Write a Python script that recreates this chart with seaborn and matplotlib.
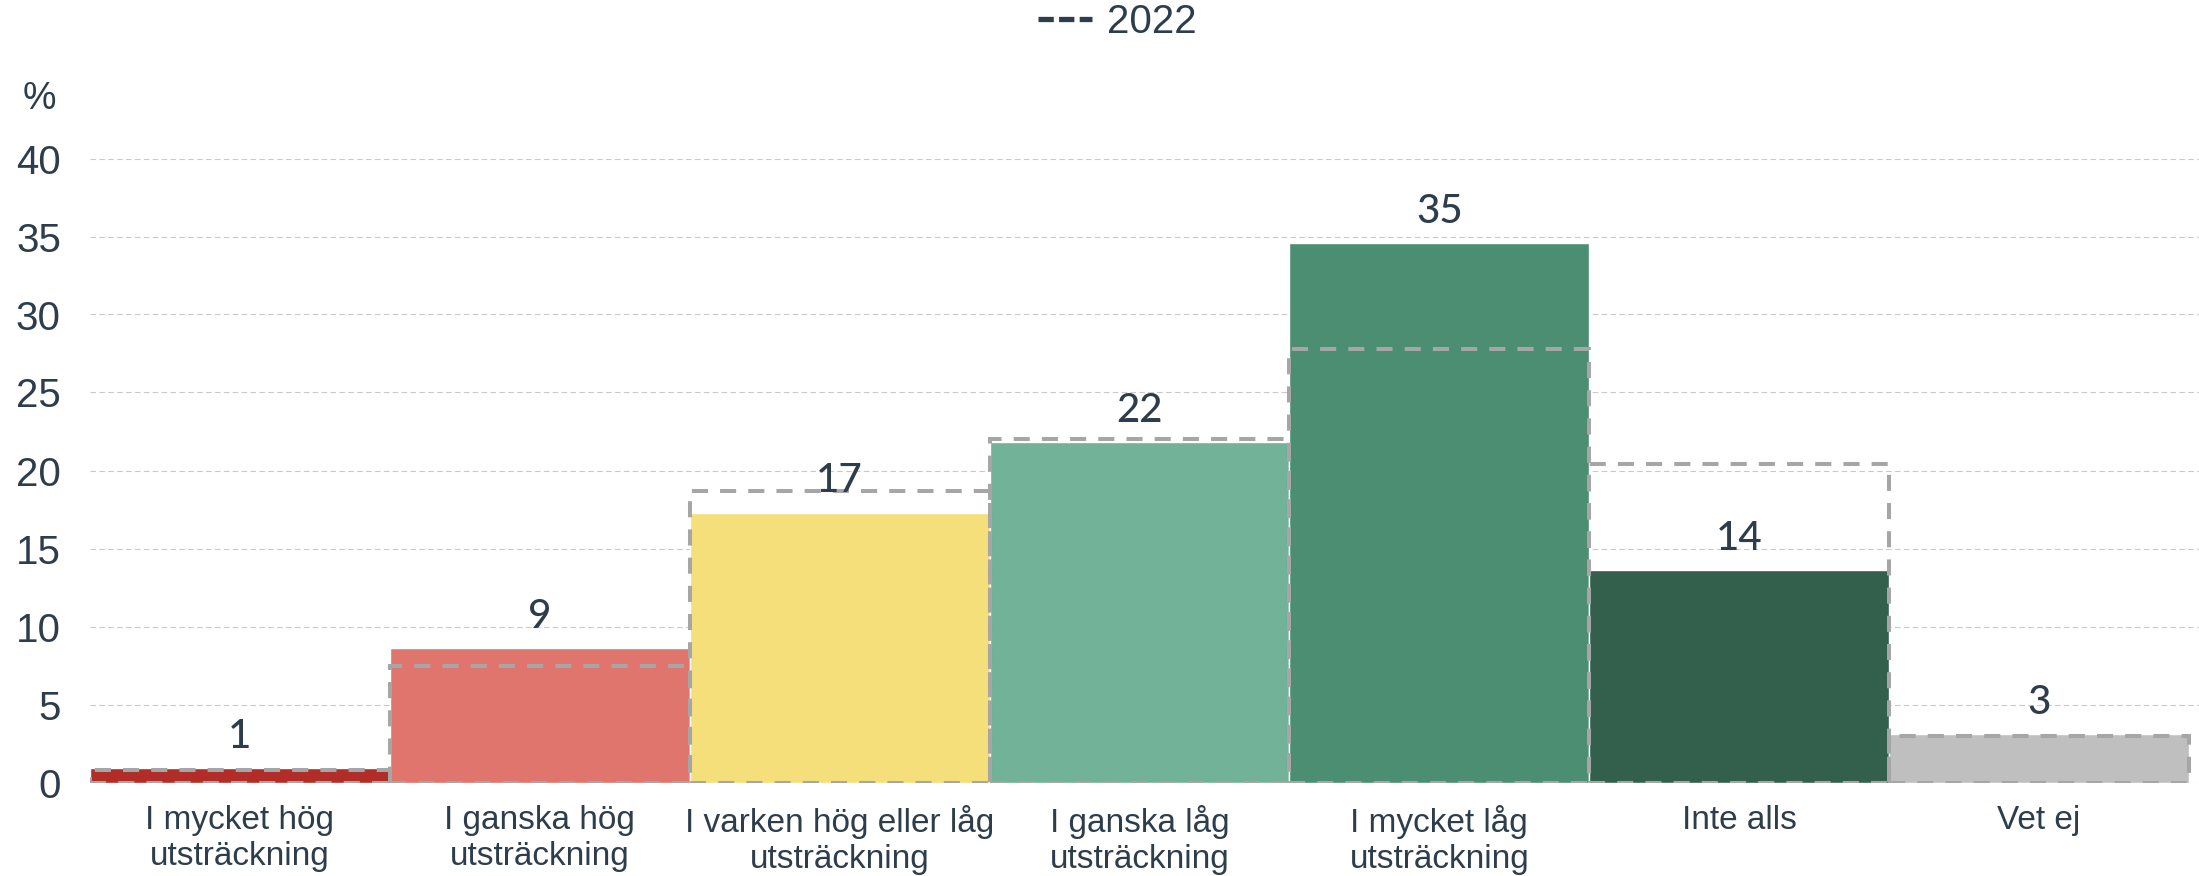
import matplotlib
matplotlib.use("Agg")
import matplotlib.pyplot as plt
from matplotlib.lines import Line2D
import seaborn as sns
import pandas as pd

# data
categories = [
    "I mycket hög\nutsträckning",
    "I ganska hög\nutsträckning",
    "I varken hög eller låg\nutsträckning",
    "I ganska låg\nutsträckning",
    "I mycket låg\nutsträckning",
    "Inte alls",
    "Vet ej",
]
values_2025 = [0.9, 8.6, 17.3, 21.8, 34.6, 13.6, 3.1]
values_2022 = [0.8, 7.5, 18.7, 22.0, 27.8, 20.4, 3.0]
bar_colors = ["#B22D27", "#E0756D", "#F5DF7B", "#71B298", "#4B8E72", "#335F4D", "#BFBFBF"]
yticks = [0, 5, 10, 15, 20, 25, 30, 35, 40]

text_color = "#2E3D4C"
outline_color = "#A6A6A6"

sns.set_style("white")
plt.rcParams["font.family"] = ["Liberation Sans", "DejaVu Sans"]

df = pd.DataFrame({"kategori": categories, "andel": values_2025})

fig = plt.figure(figsize=(21.99, 8.76), dpi=100)
ax = fig.add_axes([90 / 2199, 1 - 782.5 / 876, (2199 - 90) / 2199, (782.5 - 158.5) / 876])

# gridlines
for t in yticks:
    ax.axhline(t, color="#C9C9C9", lw=0.8, ls=(0, (5, 3)), zorder=0)

sns.barplot(data=df, x="kategori", y="andel", hue="kategori", palette=bar_colors,
            width=1.0, legend=False, saturation=1, ax=ax, zorder=2)

# 2022 outlines
pos = list(range(len(categories)))
ax.bar(pos, values_2022, width=1.0, fill=False, edgecolor=outline_color,
       linewidth=2.9, linestyle=(0, (4, 3)), zorder=3)

# value labels
for x, v in zip(pos, values_2025):
    ax.annotate(f"{v:.0f}", (x, v), xytext=(0, 9.5), textcoords="offset points",
                ha="center", va="bottom", fontsize=29, color=text_color,
                family=["Lato", "DejaVu Sans"], fontweight="medium", zorder=4)

ax.set_xlim(-0.5, 6.5 + 10 / 300)
ax.set_ylim(0, 40)
ax.set_yticks(yticks)
ax.set_xlabel("")
ax.set_ylabel("")
sns.despine(ax=ax, left=True, bottom=True)
ax.tick_params(axis="y", length=0, pad=21, labelsize=29, labelcolor=text_color)
ax.tick_params(axis="x", length=0, pad=16, labelsize=24, labelcolor=text_color)
for lab in ax.get_xticklabels():
    lab.set_linespacing(1.22)

fig.text(39 / 2199, 1 - 99 / 876, "%", ha="center", va="center", fontsize=27,
         color=text_color)

handle = Line2D([0], [0], color=text_color, lw=3.8, ls=(0, (2.9, 1.0)))
fig.legend([handle], ["2022"], loc="center", bbox_to_anchor=(0.508, 1 - 22 / 876),
           frameon=False, handlelength=1.35, handletextpad=0.35,
           labelcolor=text_color, prop={"size": 29})

fig.savefig("out.png", dpi=100)
